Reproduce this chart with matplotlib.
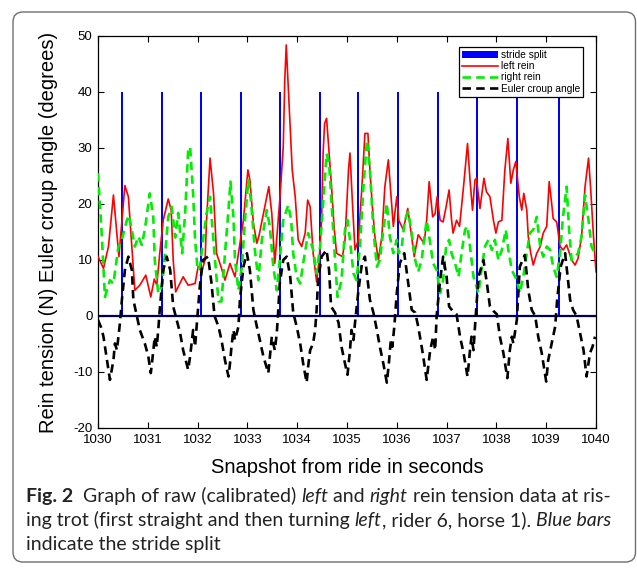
import matplotlib
matplotlib.use("Agg")
import matplotlib.pyplot as plt
import matplotlib.patches as mpatches
from matplotlib.transforms import IdentityTransform

plt.rcParams['font.family'] = ['Liberation Sans', 'DejaVu Sans']
plt.rcParams['axes.unicode_minus'] = False

# ---------------- data ----------------
stride_t = [1030.48, 1031.28, 1032.06, 1032.88, 1033.65, 1034.45, 1035.22,
            1036.02, 1036.82, 1037.61, 1038.41, 1039.26]
stride_h = [40] * len(stride_t)

red_t = [1030.00, 1030.11, 1030.21, 1030.31, 1030.42, 1030.54, 1030.61, 1030.74, 1030.84, 1030.96,
         1031.06, 1031.13, 1031.18, 1031.24, 1031.31, 1031.41, 1031.47, 1031.51, 1031.56, 1031.71,
         1031.81, 1031.95, 1032.01, 1032.08, 1032.15, 1032.18, 1032.25, 1032.32, 1032.38, 1032.47,
         1032.55, 1032.65, 1032.75, 1032.82, 1032.92, 1033.01, 1033.05, 1033.12, 1033.19, 1033.23,
         1033.35, 1033.43, 1033.49, 1033.55, 1033.65, 1033.72, 1033.75, 1033.78, 1033.82, 1033.86,
         1033.90, 1033.96, 1034.02, 1034.09, 1034.16, 1034.21, 1034.26, 1034.32, 1034.39, 1034.44,
         1034.49, 1034.52, 1034.55, 1034.59, 1034.69, 1034.74, 1034.79, 1034.91, 1034.96, 1035.03,
         1035.06, 1035.11, 1035.16, 1035.23, 1035.30, 1035.36, 1035.42, 1035.46, 1035.51, 1035.56,
         1035.63, 1035.70, 1035.76, 1035.83, 1035.88, 1035.93, 1036.00, 1036.04, 1036.13, 1036.22,
         1036.27, 1036.35, 1036.43, 1036.50, 1036.55, 1036.60, 1036.65, 1036.72, 1036.77, 1036.81,
         1036.87, 1036.93, 1036.99, 1037.05, 1037.10, 1037.13, 1037.20, 1037.26, 1037.34, 1037.42,
         1037.47, 1037.52, 1037.57, 1037.60, 1037.67, 1037.75, 1037.80, 1037.87, 1037.94, 1037.99,
         1038.04, 1038.11, 1038.17, 1038.23, 1038.29, 1038.34, 1038.39, 1038.46, 1038.51, 1038.55,
         1038.61, 1038.64, 1038.69, 1038.74, 1038.81, 1038.88, 1038.94, 1039.01, 1039.06, 1039.11,
         1039.14, 1039.21, 1039.28, 1039.34, 1039.41, 1039.51, 1039.58, 1039.64, 1039.71, 1039.78,
         1039.85, 1039.89, 1039.95, 1040.00]
red_v = [10.6, 8.5, 12.4, 21.6, 10.6, 23.3, 21.3, 4.6, 5.5, 7.3,
         3.4, 6.6, 5.5, 11.2, 17.1, 20.9, 18.9, 10.0, 4.3, 7.0,
         5.5, 5.8, 8.8, 7.9, 10.0, 17.1, 28.2, 21.9, 11.2, 8.8,
         6.4, 9.4, 7.0, 11.2, 17.1, 26.1, 24.3, 16.6, 13.0, 14.2,
         19.5, 23.1, 18.3, 9.4, 20.7, 30.2, 42.0, 48.4, 41.0, 33.8,
         26.1, 21.3, 13.6, 12.4, 14.8, 20.7, 19.5, 11.2, 6.1, 10.0,
         17.1, 29.0, 34.4, 35.3, 23.1, 16.0, 11.2, 10.6, 13.6, 26.1,
         29.1, 20.1, 11.8, 13.6, 23.1, 32.6, 32.6, 26.1, 19.5, 14.2,
         10.0, 14.2, 23.1, 27.9, 21.9, 16.0, 21.3, 17.1, 15.4, 19.2,
         16.0, 10.6, 14.5, 13.6, 13.0, 17.1, 24.0, 17.7, 18.3, 21.3,
         17.1, 16.8, 19.5, 22.5, 17.1, 14.8, 17.1, 16.0, 23.1, 30.8,
         24.3, 18.9, 24.3, 24.6, 19.2, 24.6, 22.2, 21.3, 17.1, 14.8,
         16.8, 17.1, 26.1, 31.7, 23.7, 26.1, 27.6, 21.3, 18.9, 21.9,
         18.9, 14.2, 11.2, 9.1, 11.2, 12.4, 14.8, 16.0, 24.0, 20.1,
         17.4, 16.8, 12.4, 11.8, 12.7, 10.0, 9.1, 10.3, 14.2, 23.1,
         28.2, 23.1, 14.2, 7.9]

green_t = [1030.00, 1030.07, 1030.14, 1030.24, 1030.31, 1030.41, 1030.46, 1030.58, 1030.62, 1030.68,
           1030.74, 1030.81, 1030.88, 1030.94, 1031.04, 1031.11, 1031.14, 1031.21, 1031.28, 1031.35,
           1031.41, 1031.48, 1031.55, 1031.61, 1031.69, 1031.75, 1031.81, 1031.85, 1031.91, 1031.95,
           1032.00, 1032.05, 1032.11, 1032.18, 1032.25, 1032.28, 1032.35, 1032.42, 1032.48, 1032.55,
           1032.62, 1032.66, 1032.72, 1032.75, 1032.82, 1032.89, 1032.95, 1033.02, 1033.07, 1033.15,
           1033.22, 1033.29, 1033.39, 1033.45, 1033.52, 1033.59, 1033.65, 1033.72, 1033.82, 1033.88,
           1033.92, 1033.99, 1034.06, 1034.12, 1034.22, 1034.32, 1034.39, 1034.46, 1034.52, 1034.59,
           1034.64, 1034.69, 1034.76, 1034.81, 1034.89, 1034.96, 1035.01, 1035.06, 1035.13, 1035.19,
           1035.26, 1035.33, 1035.40, 1035.46, 1035.53, 1035.60, 1035.66, 1035.73, 1035.80, 1035.86,
           1035.93, 1036.00, 1036.04, 1036.10, 1036.16, 1036.23, 1036.30, 1036.37, 1036.43, 1036.50,
           1036.53, 1036.60, 1036.65, 1036.73, 1036.80, 1036.87, 1036.93, 1036.99, 1037.05, 1037.10,
           1037.17, 1037.24, 1037.30, 1037.37, 1037.42, 1037.47, 1037.54, 1037.64, 1037.70, 1037.77,
           1037.84, 1037.91, 1037.97, 1038.04, 1038.11, 1038.19, 1038.24, 1038.31, 1038.41, 1038.47,
           1038.54, 1038.61, 1038.67, 1038.74, 1038.81, 1038.88, 1038.94, 1039.01, 1039.08, 1039.14,
           1039.21, 1039.28, 1039.33, 1039.41, 1039.46, 1039.51, 1039.58, 1039.64, 1039.71, 1039.78,
           1039.85, 1039.91, 1039.98]
green_v = [25.5, 15.4, 3.4, 6.4, 5.8, 12.4, 13.0, 17.1, 18.0, 15.4,
           12.4, 14.2, 12.7, 15.4, 21.9, 17.7, 10.0, 4.1, 5.2, 11.2,
           17.7, 19.5, 14.0, 18.4, 11.2, 18.3, 29.6, 30.2, 21.9, 13.6,
           8.2, 8.8, 13.6, 18.3, 21.3, 17.7, 10.0, 2.6, 2.6, 11.2,
           18.9, 24.0, 17.7, 10.0, 4.6, 8.8, 17.1, 24.3, 20.7, 11.8,
           6.4, 13.6, 18.9, 16.0, 8.8, 4.6, 10.0, 17.1, 19.8, 17.1,
           11.2, 7.0, 5.8, 9.4, 14.8, 11.8, 7.6, 12.4, 20.1, 29.0,
           27.3, 20.1, 10.0, 3.4, 6.4, 15.4, 17.1, 13.6, 7.6, 6.4,
           12.4, 23.1, 31.4, 26.1, 15.4, 8.8, 10.0, 15.4, 20.1, 14.2,
           11.2, 13.6, 11.2, 12.4, 17.1, 18.6, 14.8, 10.0, 7.9, 10.0,
           12.4, 17.1, 14.2, 9.4, 8.2, 4.1, 6.4, 12.4, 13.6, 11.2,
           9.4, 7.0, 11.2, 15.4, 16.0, 12.4, 7.0, 4.1, 8.2, 12.4,
           13.6, 11.8, 13.6, 10.0, 11.8, 15.4, 11.8, 8.2, 6.4, 4.1,
           7.0, 11.2, 14.8, 15.4, 17.7, 12.4, 10.6, 12.4, 11.8, 8.8,
           7.0, 11.2, 17.1, 23.1, 15.4, 10.0, 10.6, 11.2, 14.2, 21.6,
           17.1, 12.4, 11.2]

black_t = [1030.00, 1030.07, 1030.11, 1030.17, 1030.24, 1030.31, 1030.34, 1030.38, 1030.41, 1030.44,
           1030.48, 1030.54, 1030.61, 1030.68, 1030.71, 1030.78, 1030.84, 1030.94, 1031.01, 1031.06,
           1031.09, 1031.14, 1031.18, 1031.21, 1031.24, 1031.31, 1031.38, 1031.45, 1031.51, 1031.58,
           1031.65, 1031.71, 1031.81, 1031.85, 1031.91, 1031.95, 1031.98, 1032.05, 1032.11, 1032.21,
           1032.28, 1032.34, 1032.42, 1032.48, 1032.55, 1032.62, 1032.65, 1032.68, 1032.72, 1032.75,
           1032.82, 1032.85, 1032.92, 1032.99, 1033.05, 1033.12, 1033.19, 1033.25, 1033.32, 1033.42,
           1033.49, 1033.55, 1033.59, 1033.62, 1033.65, 1033.72, 1033.79, 1033.86, 1033.92, 1033.99,
           1034.06, 1034.12, 1034.19, 1034.22, 1034.26, 1034.32, 1034.36, 1034.39, 1034.42, 1034.49,
           1034.59, 1034.64, 1034.68, 1034.76, 1034.83, 1034.89, 1034.96, 1035.01, 1035.06, 1035.09,
           1035.13, 1035.16, 1035.23, 1035.30, 1035.36, 1035.46, 1035.53, 1035.60, 1035.66, 1035.73,
           1035.80, 1035.84, 1035.88, 1035.91, 1035.95, 1036.00, 1036.06, 1036.15, 1036.23, 1036.30,
           1036.37, 1036.43, 1036.50, 1036.53, 1036.60, 1036.67, 1036.73, 1036.77, 1036.80, 1036.87,
           1036.93, 1037.00, 1037.05, 1037.13, 1037.20, 1037.27, 1037.34, 1037.42, 1037.47, 1037.50,
           1037.54, 1037.57, 1037.64, 1037.74, 1037.81, 1037.87, 1037.94, 1038.01, 1038.07, 1038.14,
           1038.22, 1038.27, 1038.31, 1038.34, 1038.41, 1038.47, 1038.57, 1038.64, 1038.71, 1038.78,
           1038.84, 1038.91, 1039.00, 1039.04, 1039.11, 1039.18, 1039.22, 1039.29, 1039.38, 1039.48,
           1039.54, 1039.61, 1039.68, 1039.75, 1039.81, 1039.88, 1039.93, 1039.98]
black_v = [-0.7, -2.2, -3.7, -7.2, -11.4, -7.9, -4.9, -6.1, -3.7, -1.3,
           2.9, 8.2, 10.6, 8.2, 2.9, 0.0, -2.5, -4.9, -7.2, -10.2,
           -7.9, -3.7, -5.5, -2.5, 1.1, 8.2, 10.6, 8.2, 1.7, -0.7,
           -3.1, -6.1, -9.6, -7.2, -2.5, -5.5, -1.9, 5.8, 10.0, 10.6,
           5.8, 0.0, -1.9, -4.3, -7.9, -10.8, -8.5, -5.5, -2.5, -4.3,
           -1.9, 2.9, 8.8, 11.2, 8.2, 1.1, -1.9, -4.3, -7.2, -10.2,
           -3.7, -6.1, -3.1, 1.1, 5.8, 10.0, 10.6, 7.0, 0.6, -1.9,
           -4.9, -8.5, -11.9, -9.0, -6.1, -4.9, -2.5, 1.1, 6.4, 10.6,
           11.8, 8.2, 1.7, 0.6, -1.2, -5.5, -8.5, -10.5, -6.1, -2.5,
           -4.3, -1.3, 4.6, 9.4, 10.6, 2.9, 0.6, -2.5, -5.5, -8.5,
           -11.9, -8.5, -4.3, -5.5, -1.9, 4.1, 9.4, 11.2, 5.8, 1.1,
           0.6, -1.9, -5.5, -7.2, -11.4, -6.1, -3.7, -6.1, 0.0, 6.4,
           10.6, 7.0, 1.7, 0.8, 0.3, -3.7, -6.6, -10.8, -6.1, -3.7,
           -6.1, -1.9, 7.0, 10.0, 5.8, 1.7, 0.9, 0.3, -3.7, -6.6,
           -11.1, -6.1, -3.7, -4.9, -0.7, 8.8, 10.9, 4.6, 1.1, 0.0,
           -3.7, -6.6, -11.7, -7.9, -4.9, -1.9, 2.9, 8.8, 11.2, 2.9,
           1.1, 0.0, -3.1, -6.1, -10.8, -6.6, -5.5, -3.7]

x_ticks = list(range(1030, 1041))
y_ticks = list(range(-20, 51, 10))
legend_labels = ['stride split', 'left rein', 'right rein', 'Euler croup angle']

# ---------------- figure ----------------
W, H = 637, 569
fig = plt.figure(figsize=(W / 100, H / 100), dpi=100)
fig.patch.set_facecolor('white')

# rounded frame around figure + caption
frame = mpatches.FancyBboxPatch((13, 7), 622.5, 550,
                                boxstyle="round,pad=0,rounding_size=10",
                                transform=IdentityTransform(),
                                facecolor='none', edgecolor='#6f6f6f', lw=1.0)
fig.patches.append(frame)

ax_l, ax_r, ax_t, ax_b = 98, 596, 36, 428
ax = fig.add_axes([ax_l / W, 1 - ax_b / H, (ax_r - ax_l) / W, (ax_b - ax_t) / H])

h_bar = ax.bar(stride_t, stride_h, width=0.04, color='#0000ff', edgecolor='none',
               label=legend_labels[0], zorder=2)
ax.axhline(0, color='#00005a', lw=1.6, zorder=2.5)
h_red, = ax.plot(red_t, red_v, color='#ff0000', lw=1.2, label=legend_labels[1], zorder=3)
h_grn, = ax.plot(green_t, green_v, color='#00ee00', lw=1.9, dashes=(3.2, 2.0),
                 label=legend_labels[2], zorder=4)
h_blk, = ax.plot(black_t, black_v, color='#000000', lw=1.9, dashes=(3.2, 2.0),
                 label=legend_labels[3], zorder=5)

ax.set_xlim(1030, 1040)
ax.set_ylim(-20, 50)
ax.set_xticks(x_ticks)
ax.set_yticks(y_ticks)
ax.tick_params(direction='in', length=4, width=0.8, top=True, right=True,
               labelsize=9.5, colors='black', pad=4)
for s in ax.spines.values():
    s.set_linewidth(0.9)

ax.set_xlabel('Snapshot from ride in seconds', fontsize=14.5, labelpad=9)
ax.set_ylabel('Rein tension (N) Euler croup angle (degrees)', fontsize=14.5, labelpad=11)

leg = ax.legend([h_bar, h_red, h_grn, h_blk], legend_labels,
                loc='upper left', bbox_to_anchor=(0.725, 0.972), borderaxespad=0,
                fontsize=7.3, frameon=True, fancybox=False, edgecolor='black',
                framealpha=1, handlelength=3.5, handletextpad=0.3,
                labelspacing=0.12, borderpad=0.3)
leg.get_frame().set_linewidth(0.9)

# ---------------- caption ----------------
cap_font = ['Lato', 'DejaVu Sans']
cap_size = 14

lines = [
    [("Fig. 2", 'bold', 'normal'), ("  Graph of raw (calibrated) ", 'normal', 'normal'),
     ("left", 'normal', 'italic'), (" and ", 'normal', 'normal'),
     ("right", 'normal', 'italic'), (" rein tension data at ris-", 'normal', 'normal')],
    [("ing trot (first straight and then turning ", 'normal', 'normal'),
     ("left", 'normal', 'italic'), (", rider 6, horse 1). ", 'normal', 'normal'),
     ("Blue bars", 'normal', 'italic')],
    [("indicate the stride split", 'normal', 'normal')],
]
baselines = [502, 526, 550]
cap_x = 26

fig.canvas.draw()
renderer = fig.canvas.get_renderer()
for pieces, yb in zip(lines, baselines):
    xpos = cap_x
    for txt, weight, style in pieces:
        t = fig.text(xpos / W, 1 - yb / H, txt, ha='left', va='baseline',
                     fontsize=cap_size, family=cap_font, fontweight=weight,
                     fontstyle=style, color='#222222')
        bb = t.get_window_extent(renderer=renderer)
        xpos += bb.width

fig.savefig('out.png', dpi=100)
